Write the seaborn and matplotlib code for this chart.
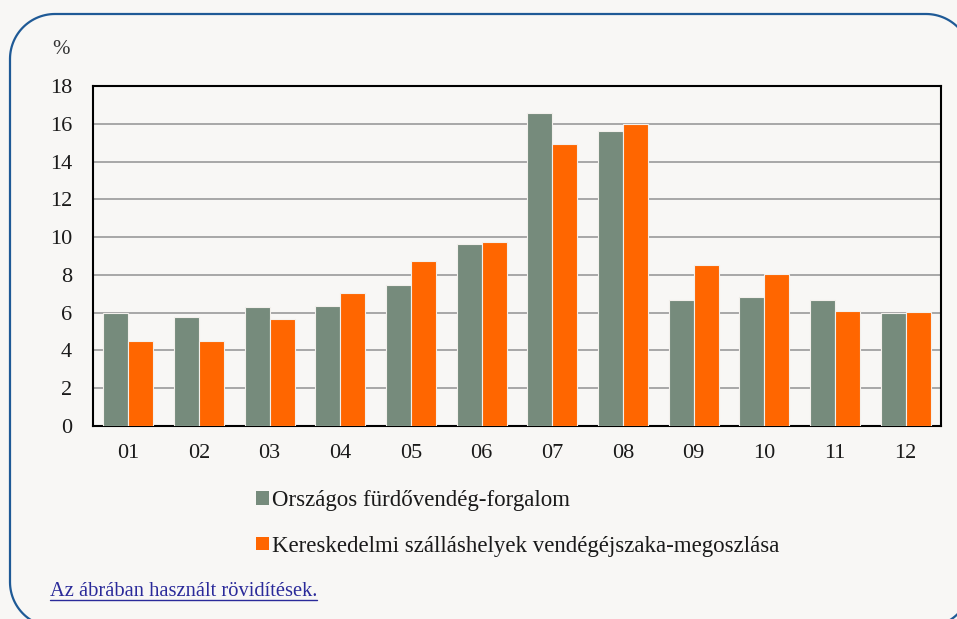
import numpy as np
import pandas as pd
import matplotlib.pyplot as plt
import seaborn as sns
from matplotlib.patches import Patch, PathPatch
from matplotlib.path import Path
from matplotlib.transforms import IdentityTransform

# Monthly shares (%)
months = ["01", "02", "03", "04", "05", "06", "07", "08", "09", "10", "11", "12"]
furdo = [6.0, 5.75, 6.32, 6.35, 7.48, 9.61, 16.56, 15.6, 6.67, 6.85, 6.65, 6.0]
szallas = [4.52, 4.5, 5.66, 7.04, 8.74, 9.73, 14.92, 16.0, 8.55, 8.05, 6.1, 6.04]
series_names = ["Országos fürdővendég-forgalom",
                "Kereskedelmi szálláshelyek vendégéjszaka-megoszlása"]
colors = ["#768b7c", "#ff6600"]

df = pd.DataFrame({
    "month": months * 2,
    "value": furdo + szallas,
    "series": [series_names[0]] * len(months) + [series_names[1]] * len(months),
})

sns.set_style("white")
plt.rcParams["font.family"] = ["Liberation Serif", "DejaVu Serif"]

bg = "#f8f7f5"
fig = plt.figure(figsize=(9.57, 6.19), dpi=100, facecolor=bg)


def rounded_rect(x0, y0, x1, y1, r, n=30):
    # closed rounded rectangle outline, pixel coordinates (y up)
    pts = []
    corners = [(x1 - r, y1 - r, 0), (x0 + r, y1 - r, 90),
               (x0 + r, y0 + r, 180), (x1 - r, y0 + r, 270)]
    for cx, cy, a0 in corners:
        t = np.radians(np.linspace(a0, a0 + 90, n))
        pts += list(zip(cx + r * np.cos(t), cy + r * np.sin(t)))
    pts.append(pts[0])
    return Path(pts)


# frame of the panel, running off the right and bottom edges
frame = PathPatch(rounded_rect(10, -8, 971, 605, 45), transform=IdentityTransform(),
                  facecolor="none", edgecolor="#1f5a96", linewidth=1.6, zorder=0)
fig.patches.append(frame)

ax = fig.add_axes([93 / 957, 1 - 426 / 619, 848 / 957, 340 / 619])
ax.set_facecolor(bg)

sns.barplot(data=df, x="month", y="value", hue="series", palette=colors,
            width=0.71, saturation=1, edgecolor="#f3f0ec", linewidth=0.8,
            legend=False, ax=ax, zorder=3)

ax.set_ylim(0, 18)
ax.set_yticks(range(0, 19, 2))
ax.set_xlim(-0.5, 11.5)
ax.yaxis.grid(True, color="#9a9a9a", linewidth=1.2, zorder=0)
ax.set_axisbelow(True)
for s in ax.spines.values():
    s.set_color("black")
    s.set_linewidth(1.5)
ax.tick_params(axis="both", length=0, labelsize=16, colors="#1a1a1a")
ax.tick_params(axis="x", pad=13)
ax.tick_params(axis="y", pad=15)
ax.set_xlabel("")
ax.set_ylabel("")

fig.text(52 / 957, 1 - 50 / 619, "%", fontsize=15, color="#333333", va="center")

handles = [Patch(facecolor=c, edgecolor="none") for c in colors]
fig.legend(handles, series_names, loc="upper left",
           bbox_to_anchor=(245 / 957, 1 - 479 / 619), frameon=False,
           fontsize=16.5, handlelength=0.55, handleheight=0.55, handletextpad=0.15,
           labelspacing=1.05, borderpad=0, labelcolor="#1a1a1a")

link = fig.text(50 / 957, 1 - 591 / 619, "Az ábrában használt rövidítések.",
                fontsize=14.8, color="#2a2a9a", va="center")
fig.canvas.draw()
bb = link.get_window_extent()
fig.add_artist(plt.Line2D([bb.x0, bb.x1], [bb.y0 + 1, bb.y0 + 1],
                          transform=IdentityTransform(), color="#2a2a9a", linewidth=1))

fig.savefig("out.png", dpi=100, facecolor=bg)
